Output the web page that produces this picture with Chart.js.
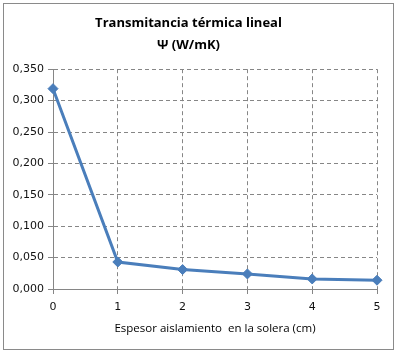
<!DOCTYPE html>
<html>
<head>
<meta charset="utf-8">
<script src="https://cdn.jsdelivr.net/npm/chart.js@4"></script>
<style>
  html, body { margin: 0; padding: 0; background: #fff; }
  #wrap { width: 398px; height: 354px; }
</style>
</head>
<body>
<div id="wrap"><canvas id="psiChart" width="398" height="354"></canvas></div>
<script>
// espesor (cm) y transmitancia lineal
const espesor = ['0', '1', '2', '3', '4', '5'];
const psi = [0.319, 0.043, 0.031, 0.024, 0.016, 0.014];
const titulo = ['Transmitancia térmica lineal', 'Ψ (W/mK)'];
const tituloX = 'Espesor aislamiento  en la solera (cm)';

const gris = '#868686';
const azul = '#4a7ebb';

// marco exterior del gráfico
const marco = {
  id: 'marco',
  beforeDraw(chart) {
    const c = chart.ctx;
    c.save();
    c.fillStyle = '#fff';
    c.fillRect(0, 0, chart.width, chart.height);
    c.strokeStyle = '#8a8a8a';
    c.lineWidth = 1;
    c.strokeRect(3.5, 3.5, 390, 346);
    c.restore();
  }
};

const ctx = document.getElementById('psiChart').getContext('2d');
new Chart(ctx, {
  type: 'line',
  data: {
    labels: espesor,
    datasets: [{
      data: psi,
      borderColor: azul,
      backgroundColor: azul,
      borderWidth: 3,
      pointStyle: 'rectRot',
      pointRadius: 5,
      pointBorderWidth: 1,
      tension: 0
    }]
  },
  options: {
    responsive: false,
    animation: false,
    layout: { padding: { left: 0, right: 21, top: 0, bottom: 18 } },
    plugins: {
      legend: { display: false },
      tooltip: { enabled: false },
      title: {
        display: true,
        text: titulo,
        color: '#000',
        font: { family: 'Open Sans', size: 13, weight: 'bold', lineHeight: 1.7 },
        padding: { top: 12, bottom: 13 }
      }
    },
    scales: {
      x: {
        offset: false,
        grid: { color: gris, tickColor: gris, tickLength: 5, offset: false },
        border: { color: gris, dash: [4, 3] },
        ticks: { color: '#111', font: { family: 'DejaVu Sans', size: 11 }, padding: 7, maxRotation: 0 },
        title: {
          display: true,
          text: tituloX,
          color: '#000',
          font: { family: 'Open Sans', size: 11.5 },
          padding: { top: 3, bottom: 0 }
        },
        afterFit(scale) { scale.height = 47; }
      },
      y: {
        min: 0,
        max: 0.35,
        grid: { color: gris, tickColor: gris, tickLength: 5 },
        border: { color: gris, dash: [4, 3] },
        ticks: {
          stepSize: 0.05,
          color: '#111',
          font: { family: 'DejaVu Sans', size: 11 },
          padding: 4,
          callback: v => v.toFixed(3).replace('.', ',')
        },
        afterFit(scale) { scale.width = 53; }
      }
    }
  },
  plugins: [marco]
});
</script>
</body>
</html>
